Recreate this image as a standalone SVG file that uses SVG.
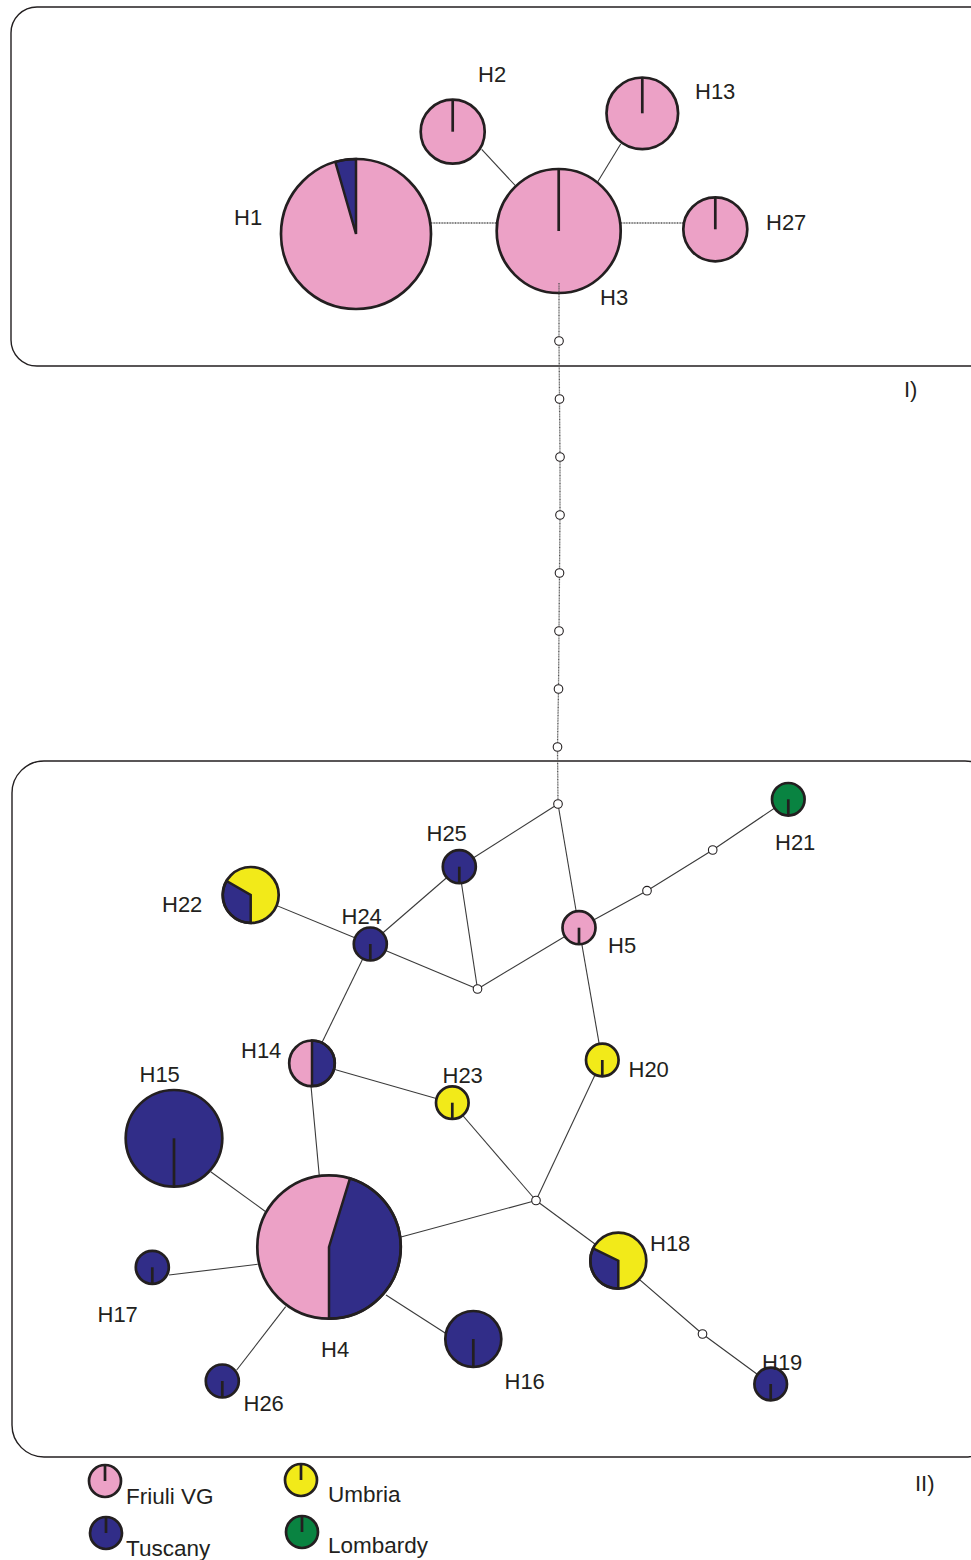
<svg xmlns="http://www.w3.org/2000/svg" width="971" height="1560" viewBox="0 0 971 1560">
<style>
.frame{fill:none;stroke:#231F20;stroke-width:1.4}
.e{stroke:#3a3a3a;stroke-width:1.1;fill:none}
.ed{stroke:#555;stroke-width:1.3;fill:none;stroke-dasharray:1 0.6}
.o{fill:none;stroke:#231F20;stroke-width:2.7}
.t{stroke:#231F20;stroke-width:2.7}
.sep{stroke:#231F20;stroke-width:2.5;stroke-linejoin:miter}
.pk{fill:#ECA1C6}
.bl{fill:#312D88}
.ye{fill:#F2EA19}
.gr{fill:#098341}
.mv{fill:#fff;stroke:#231F20;stroke-width:1.1}
text{font-family:"Liberation Sans",Arial,sans-serif;font-size:22px;fill:#231F20}
.lg{font-size:22.5px}
</style>
<g id="frames">
<rect class="frame" x="11" y="7" width="985" height="359" rx="26"/>
<rect class="frame" x="12" y="761" width="985" height="696" rx="32"/>
<text x="904" y="397">I)</text>
<text x="915" y="1491">II)</text>
</g>
<g id="connectors">
<line class="ed" x1="431" y1="223" x2="497" y2="223"/>
<line class="ed" x1="621" y1="223" x2="683" y2="223"/>
<line class="e" x1="481.7" y1="149.3" x2="515.7" y2="186"/>
<line class="e" x1="597.7" y1="181.7" x2="620.7" y2="144"/>
<polyline class="ed" points="559,283 559,341 559.5,399 560,457 560,515 559.5,573 559,631 558.5,689 557.5,747 558,804"/>
<line class="e" x1="558" y1="804" x2="459" y2="867"/>
<line class="e" x1="558" y1="804" x2="579" y2="928"/>
<polyline class="e" points="579,928 647,890.7 712.7,850 788,799"/>
<line class="e" x1="579" y1="928" x2="477.5" y2="989"/>
<line class="e" x1="459" y1="867" x2="477.5" y2="989"/>
<line class="e" x1="459" y1="867" x2="370" y2="944"/>
<line class="e" x1="370" y1="944" x2="477.5" y2="989"/>
<line class="e" x1="370" y1="944" x2="251" y2="895"/>
<line class="e" x1="370" y1="944" x2="312" y2="1063"/>
<line class="e" x1="312" y1="1063" x2="452" y2="1103"/>
<line class="e" x1="311" y1="1086" x2="319.3" y2="1176"/>
<line class="e" x1="579" y1="928" x2="602" y2="1060"/>
<line class="e" x1="602" y1="1060" x2="536" y2="1200.5"/>
<line class="e" x1="452" y1="1103" x2="536" y2="1200.5"/>
<line class="e" x1="401" y1="1237" x2="536" y2="1200.5"/>
<line class="e" x1="536" y1="1200.5" x2="618" y2="1261"/>
<polyline class="e" points="618,1261 702.5,1334 770.5,1384"/>
<line class="e" x1="210.7" y1="1171.7" x2="265.7" y2="1211.7"/>
<line class="e" x1="169" y1="1275" x2="257.7" y2="1264.3"/>
<line class="e" x1="236.7" y1="1370" x2="285.7" y2="1306.7"/>
<line class="e" x1="446.7" y1="1334" x2="386" y2="1295"/>
</g>
<g id="medians">
<circle class="mv" cx="559" cy="341" r="4.3"/>
<circle class="mv" cx="559.5" cy="399" r="4.3"/>
<circle class="mv" cx="560" cy="457" r="4.3"/>
<circle class="mv" cx="560" cy="515" r="4.3"/>
<circle class="mv" cx="559.5" cy="573" r="4.3"/>
<circle class="mv" cx="559" cy="631" r="4.3"/>
<circle class="mv" cx="558.5" cy="689" r="4.3"/>
<circle class="mv" cx="557.5" cy="747" r="4.3"/>
<circle class="mv" cx="558" cy="804" r="4.3"/>
<circle class="mv" cx="647" cy="890.7" r="4.3"/>
<circle class="mv" cx="712.7" cy="850" r="4.3"/>
<circle class="mv" cx="477.5" cy="989" r="4.3"/>
<circle class="mv" cx="536" cy="1200.5" r="4.3"/>
<circle class="mv" cx="702.5" cy="1334" r="4.3"/>
</g>
<g id="H1">
<circle class="pk" cx="356" cy="234" r="75"/>
<path class="bl sep" d="M356,234 L356,159 A75,75 0 0,0 335.3,161.9 Z"/>
<circle class="o" cx="356" cy="234" r="75"/>
<text x="234" y="225">H1</text>
</g>
<g id="H2">
<circle class="pk" cx="452.7" cy="131.7" r="32"/>
<line class="t" x1="452.7" y1="99.7" x2="452.7" y2="131.7"/>
<circle class="o" cx="452.7" cy="131.7" r="32"/>
<text x="478" y="82">H2</text>
</g>
<g id="H3">
<circle class="pk" cx="558.7" cy="231" r="62"/>
<line class="t" x1="558.7" y1="169" x2="558.7" y2="231"/>
<circle class="o" cx="558.7" cy="231" r="62"/>
<line class="ed" x1="559" y1="283" x2="559" y2="293"/>
<text x="600" y="305">H3</text>
</g>
<g id="H13">
<circle class="pk" cx="642.3" cy="113.3" r="35.8"/>
<line class="t" x1="642.3" y1="77.5" x2="642.3" y2="113.3"/>
<circle class="o" cx="642.3" cy="113.3" r="35.8"/>
<text x="695" y="99">H13</text>
</g>
<g id="H27">
<circle class="pk" cx="715.3" cy="229.3" r="32"/>
<line class="t" x1="715.3" y1="197.3" x2="715.3" y2="229.3"/>
<circle class="o" cx="715.3" cy="229.3" r="32"/>
<text x="766" y="230">H27</text>
</g>
<g id="H21">
<circle class="gr" cx="788.3" cy="799.3" r="16.3"/>
<line class="t" x1="788.3" y1="799.3" x2="788.3" y2="815.6"/>
<circle class="o" cx="788.3" cy="799.3" r="16.3"/>
<text x="775" y="850">H21</text>
</g>
<g id="H5">
<circle class="pk" cx="579" cy="927.7" r="16.5"/>
<line class="t" x1="579" y1="927.7" x2="579" y2="944.2"/>
<circle class="o" cx="579" cy="927.7" r="16.5"/>
<text x="608" y="953">H5</text>
</g>
<g id="H25">
<circle class="bl" cx="459.3" cy="866.7" r="16.5"/>
<line class="t" x1="459.3" y1="866.7" x2="459.3" y2="883.2"/>
<circle class="o" cx="459.3" cy="866.7" r="16.5"/>
<text x="426.5" y="841">H25</text>
</g>
<g id="H24">
<circle class="bl" cx="370.3" cy="944" r="16.5"/>
<line class="t" x1="370.3" y1="944" x2="370.3" y2="960.5"/>
<circle class="o" cx="370.3" cy="944" r="16.5"/>
<text x="341.5" y="924">H24</text>
</g>
<g id="H22">
<circle class="ye" cx="250.7" cy="895" r="28"/>
<path class="bl sep" d="M250.7,895 L250.7,923 A28,28 0 0,1 226.5,881 Z"/>
<circle class="o" cx="250.7" cy="895" r="28"/>
<text x="162" y="912">H22</text>
</g>
<g id="H14">
<circle class="pk" cx="312" cy="1063.3" r="22.8"/>
<path class="bl sep" d="M312,1040.5 A22.8,22.8 0 0,1 312,1086.1 Z"/>
<circle class="o" cx="312" cy="1063.3" r="22.8"/>
<text x="241" y="1058">H14</text>
</g>
<g id="H23">
<circle class="ye" cx="452.3" cy="1102.7" r="16.3"/>
<line class="t" x1="452.3" y1="1102.7" x2="452.3" y2="1119"/>
<circle class="o" cx="452.3" cy="1102.7" r="16.3"/>
<text x="442.5" y="1083">H23</text>
</g>
<g id="H20">
<circle class="ye" cx="602.3" cy="1060" r="16.3"/>
<line class="t" x1="602.3" y1="1060" x2="602.3" y2="1076.3"/>
<circle class="o" cx="602.3" cy="1060" r="16.3"/>
<text x="628.5" y="1077">H20</text>
</g>
<g id="H15">
<circle class="bl" cx="174" cy="1138.3" r="48.3"/>
<line class="t" x1="174" y1="1138.3" x2="174" y2="1186.6"/>
<circle class="o" cx="174" cy="1138.3" r="48.3"/>
<text x="139.5" y="1082">H15</text>
</g>
<g id="H4">
<circle class="pk" cx="329" cy="1247" r="71.7"/>
<path class="bl sep" d="M329,1247 L350,1178.4 A71.7,71.7 0 0,1 329,1318.7 Z"/>
<circle class="o" cx="329" cy="1247" r="71.7"/>
<text x="321" y="1357">H4</text>
</g>
<g id="H17">
<circle class="bl" cx="152.3" cy="1267.3" r="16.5"/>
<line class="t" x1="152.3" y1="1267.3" x2="152.3" y2="1283.8"/>
<circle class="o" cx="152.3" cy="1267.3" r="16.5"/>
<text x="97.5" y="1322">H17</text>
</g>
<g id="H26">
<circle class="bl" cx="222.3" cy="1381" r="16.5"/>
<line class="t" x1="222.3" y1="1381" x2="222.3" y2="1397.5"/>
<circle class="o" cx="222.3" cy="1381" r="16.5"/>
<text x="243.5" y="1411">H26</text>
</g>
<g id="H16">
<circle class="bl" cx="473.3" cy="1339" r="28"/>
<line class="t" x1="473.3" y1="1339" x2="473.3" y2="1367"/>
<circle class="o" cx="473.3" cy="1339" r="28"/>
<text x="504.5" y="1388.5">H16</text>
</g>
<g id="H18">
<circle class="ye" cx="618.3" cy="1260.7" r="28"/>
<path class="bl sep" d="M618.3,1260.7 L618.3,1288.7 A28,28 0 0,1 593.1,1248.4 Z"/>
<circle class="o" cx="618.3" cy="1260.7" r="28"/>
<text x="650" y="1251">H18</text>
</g>
<g id="H19">
<circle class="bl" cx="770.7" cy="1384" r="16.3"/>
<line class="t" x1="770.7" y1="1384" x2="770.7" y2="1400.3"/>
<circle class="o" cx="770.7" cy="1384" r="16.3"/>
<text x="762" y="1369.5">H19</text>
</g>
<g id="legend">
<circle class="pk" cx="105" cy="1481" r="16"/>
<line class="t" x1="105" y1="1465" x2="105" y2="1481"/>
<circle class="o" cx="105" cy="1481" r="16"/>
<text class="lg" x="126" y="1504">Friuli VG</text>
<circle class="bl" cx="106" cy="1533" r="16"/>
<line class="t" x1="106" y1="1517" x2="106" y2="1533"/>
<circle class="o" cx="106" cy="1533" r="16"/>
<text class="lg" x="126" y="1556">Tuscany</text>
<circle class="ye" cx="301" cy="1480" r="16"/>
<line class="t" x1="301" y1="1464" x2="301" y2="1480"/>
<circle class="o" cx="301" cy="1480" r="16"/>
<text class="lg" x="328" y="1502">Umbria</text>
<circle class="gr" cx="302" cy="1532" r="16"/>
<line class="t" x1="302" y1="1516" x2="302" y2="1532"/>
<circle class="o" cx="302" cy="1532" r="16"/>
<text class="lg" x="328" y="1553">Lombardy</text>
</g>
</svg>
